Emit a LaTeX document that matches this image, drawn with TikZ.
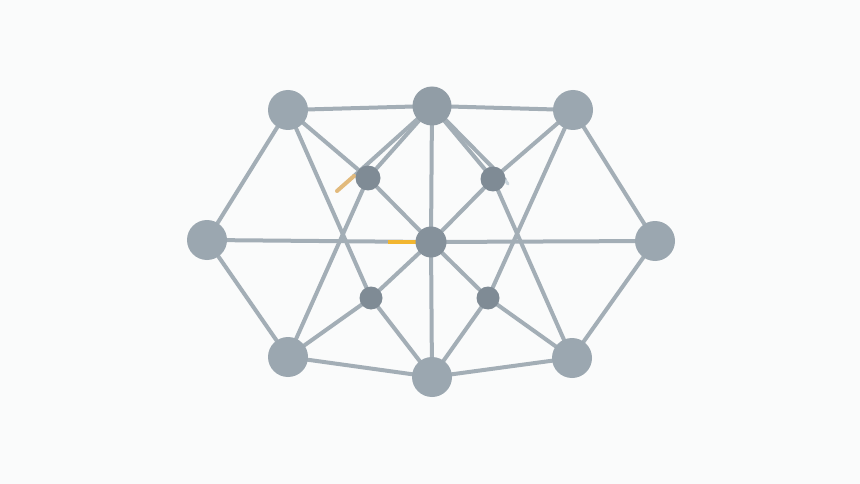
\documentclass[tikz,border=0pt]{standalone}
\usetikzlibrary{backgrounds}
\definecolor{bgc}{HTML}{FAFBFB}
\definecolor{edgec}{HTML}{A3AEB6}
\definecolor{outerc}{HTML}{9BA7B0}
\definecolor{topc}{HTML}{919DA6}
\definecolor{centerc}{HTML}{85919B}
\definecolor{innerc}{HTML}{7F8B95}
\definecolor{orangec}{HTML}{F2B630}
\definecolor{tanc}{HTML}{E2BA7C}
\definecolor{tipc}{HTML}{CBD6DD}
\pgfdeclarelayer{edgelayer}
\pgfsetlayers{background,edgelayer,main}
\tikzset{
  outer/.style={circle,fill=outerc,draw=none,minimum size=40pt,inner sep=0pt},
  topnode/.style={circle,fill=topc,draw=none,minimum size=39pt,inner sep=0pt},
  hub/.style={circle,fill=centerc,draw=none,minimum size=31pt,inner sep=0pt},
  inner/.style={circle,fill=innerc,draw=none,minimum size=25pt,inner sep=0pt},
  innersm/.style={circle,fill=innerc,draw=none,minimum size=23pt,inner sep=0pt},
  link/.style={draw=edgec,line width=4pt,line cap=round},
  accent/.style={draw=orangec,line width=4pt},
  tanstub/.style={draw=tanc,line width=4pt,line cap=round},
  tipstub/.style={draw=tipc,line width=3pt,line cap=round}
}
\begin{document}
\begin{tikzpicture}[x=1pt,y=-1pt]
\begin{pgfonlayer}{background}
\fill[bgc] (0,0) rectangle (860,484);
\end{pgfonlayer}
\useasboundingbox (0,0) rectangle (860,484);
% nodes
\node[outer] (tl) at (288,110) {};
\node[topnode] (tc) at (432,106) {};
\node[outer] (tr) at (573,110) {};
\node[outer] (l) at (207,240) {};
\node[outer] (r) at (655,241) {};
\node[outer] (bl) at (288,357) {};
\node[outer] (bc) at (432,377) {};
\node[outer] (br) at (572,358) {};
\node[hub] (c) at (431,242) {};
\node[inner] (iul) at (368,178) {};
\node[inner] (iur) at (493,179) {};
\node[innersm] (ill) at (371,298) {};
\node[innersm] (ilr) at (488,298) {};
\coordinate (ghostl) at (354,176);
\coordinate (ghostlend) at (337,191);
\coordinate (ghostr) at (505,180);
\coordinate (ghostrend) at (508,184);
\coordinate (orangestart) at (388,242);
\begin{pgfonlayer}{edgelayer}
% perimeter
\draw[link] (tl.center) -- (tc.center);
\draw[link] (tc.center) -- (tr.center);
\draw[link] (tl.center) -- (l.center);
\draw[link] (l.center) -- (bl.center);
\draw[link] (bl.center) -- (bc.center);
\draw[link] (bc.center) -- (br.center);
\draw[link] (br.center) -- (r.center);
\draw[link] (r.center) -- (tr.center);
% axes through hub
\draw[link] (l.center) -- (c.center);
\draw[link] (c.center) -- (r.center);
\draw[link] (tc.center) -- (c.center);
\draw[link] (c.center) -- (bc.center);
% upper inner nodes
\draw[link] (tl.center) -- (iul.center);
\draw[link] (iul.center) -- (c.center);
\draw[link] (tc.center) -- (iul.center);
\draw[link] (iul.center) -- (bl.center);
\draw[link] (tr.center) -- (iur.center);
\draw[link] (iur.center) -- (c.center);
\draw[link] (tc.center) -- (iur.center);
\draw[link] (iur.center) -- (br.center);
% lower inner nodes
\draw[link] (tl.center) -- (ill.center);
\draw[link] (ill.center) -- (c.center);
\draw[link] (ill.center) -- (bl.center);
\draw[link] (ill.center) -- (bc.center);
\draw[link] (tr.center) -- (ilr.center);
\draw[link] (ilr.center) -- (c.center);
\draw[link] (ilr.center) -- (br.center);
\draw[link] (ilr.center) -- (bc.center);
% ghost lines
\draw[link] (tc.center) -- (ghostl);
\draw[tanstub] (ghostl) -- (ghostlend);
\draw[link] (tc.center) -- (ghostr);
\draw[tipstub] (ghostr) -- (ghostrend);
\draw[accent] (orangestart) -- (c.center);
\end{pgfonlayer}
\end{tikzpicture}
\end{document}
